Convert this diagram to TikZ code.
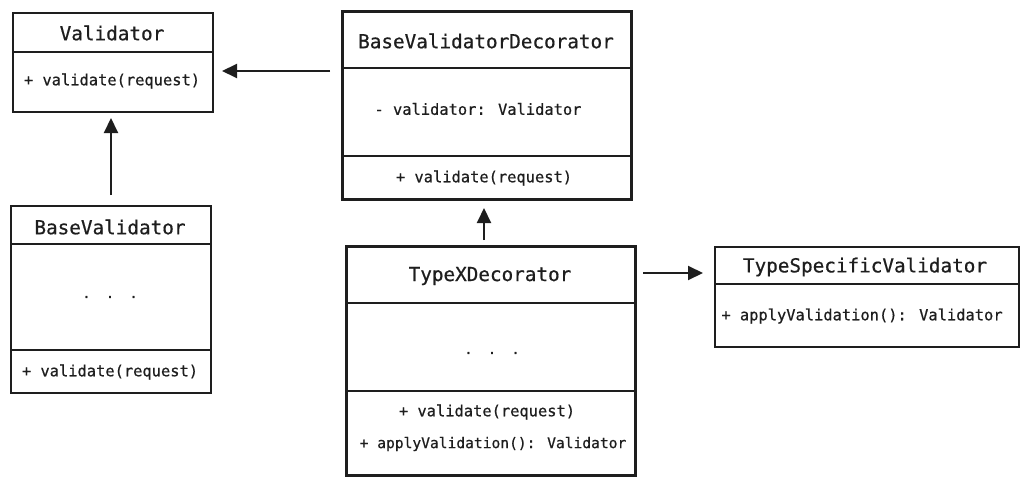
\documentclass[tikz,border=0pt]{standalone}
\usepackage{fontspec}
\newfontfamily\codefont[FakeBold=0.6]{DejaVu Sans Mono}
\usetikzlibrary{arrows.meta}
\definecolor{ink}{HTML}{1E1E1E}
\begin{document}
\begin{tikzpicture}[x=1pt,y=-1pt,
  classbox/.style={draw=ink, line width=2pt, fill=white, inner sep=0pt, anchor=north west},
  heavybox/.style={classbox, line width=3pt},
  sep/.style={draw=ink, line width=2pt},
  title/.style={text=ink, inner sep=0pt, font=\codefont\fontsize{19.3}{22}\selectfont},
  member/.style={text=ink, inner sep=0pt, font=\codefont\fontsize{15.4}{18}\selectfont},
  smallmember/.style={text=ink, inner sep=0pt, font=\codefont\fontsize{14.6}{18}\selectfont},
  dots/.style={text=ink, inner sep=0pt, font=\codefont\fontsize{13}{16}\selectfont},
  arr/.style={draw=ink, line width=2pt, -{Triangle[length=15pt,width=14pt]}}
]
\useasboundingbox (0,0) rectangle (1027,484);

% Validator
\node[classbox, minimum width=200pt, minimum height=99pt] (val) at (12,12) {};
\draw[sep] (12,52) -- (212,52);
\node[title] (valT) at (112,33) {Validator};
\node[member] (valM) at (112,81) {+ validate(request)};

% BaseValidatorDecorator
\node[heavybox, minimum width=289pt, minimum height=188pt] (bvd) at (341,10) {};
\draw[sep] (341,68) -- (630,68);
\draw[sep] (341,156) -- (630,156);
\node[title] (bvdT) at (486,41) {BaseValidatorDecorator};
\node[member] (bvdF) at (478,109) {- validator: Validator};
\node[member] (bvdM) at (484,178) {+ validate(request)};

% BaseValidator
\node[classbox, minimum width=200pt, minimum height=187pt] (bv) at (10,205) {};
\draw[sep] (10,244) -- (210,244);
\draw[sep] (10,350) -- (210,350);
\node[title] (bvT) at (110,227) {BaseValidator};
\node[dots] (bvD) at (110,297) {.\ \ .\ \ .};
\node[member] (bvM) at (110,372) {+ validate(request)};

% TypeXDecorator
\node[heavybox, minimum width=289pt, minimum height=229pt] (txd) at (345,245) {};
\draw[sep] (345,303) -- (634,303);
\draw[sep] (345,391) -- (634,391);
\node[title] (txdT) at (490,276) {TypeXDecorator};
\node[dots] (txdD) at (492,353) {.\ \ .\ \ .};
\node[member] (txdM1) at (487,412) {+ validate(request)};
\node[smallmember] (txdM2) at (493,444) {+ applyValidation(): Validator};

% TypeSpecificValidator
\node[classbox, minimum width=304pt, minimum height=100pt] (tsv) at (714,246) {};
\draw[sep] (714,284) -- (1018,284);
\node[title] (tsvT) at (865,267) {TypeSpecificValidator};
\node[member] (tsvM) at (862,316) {+ applyValidation(): Validator};

% connector ends
\coordinate (a1s) at (330,71);  \coordinate (a1e) at (222,71);
\coordinate (a2s) at (111,195); \coordinate (a2e) at (111,118);
\coordinate (a3s) at (484,240); \coordinate (a3e) at (484,208);
\coordinate (a4s) at (643,273); \coordinate (a4e) at (703,273);

\draw[arr] (a1s) -- (a1e);
\draw[arr] (a2s) -- (a2e);
\draw[arr] (a3s) -- (a3e);
\draw[arr] (a4s) -- (a4e);
\end{tikzpicture}
\end{document}
